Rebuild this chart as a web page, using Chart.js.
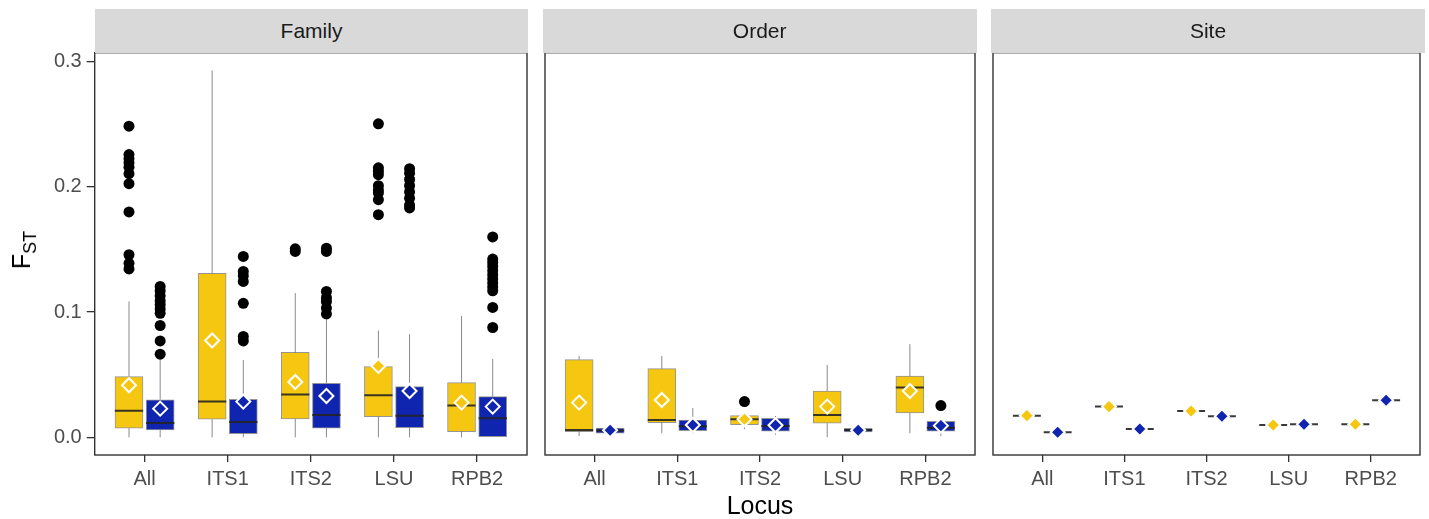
<!DOCTYPE html>
<html>
<head>
<meta charset="utf-8">
<script src="https://cdn.jsdelivr.net/npm/chart.js@4.4.0/dist/chart.umd.min.js"></script>
<style>
  body { margin: 0; background: #fff; }
  .fig { position: relative; width: 1429px; height: 519px; font-family: "Liberation Sans", Arial, sans-serif; }
  .fig canvas { position: absolute; top: 0; }
  .strip { position: absolute; top: 9.3px; height: 43.4px; line-height: 43.4px; background: #d9d9d9; color: #1a1a1a; font-size: 21px; text-align: center; }
  .ytitle { position: absolute; left: 24px; top: 250px; transform: translate(-50%, -50%) rotate(-90deg); font-size: 25px; color: #000; white-space: nowrap; }
  .ytitle sub { font-size: 18px; }
  .xtitle { position: absolute; left: 760px; top: 505px; transform: translate(-50%, -50%); font-size: 25px; color: #000; }
</style>
</head>
<body>
<div class="fig">
  <canvas id="family" width="536" height="519" style="left:0px"></canvas>
  <canvas id="order" width="448" height="519" style="left:536px"></canvas>
  <canvas id="site" width="445" height="519" style="left:984px"></canvas>
  <div class="strip" style="left:94.7px; width:433.6px">Family</div>
  <div class="strip" style="left:542.7px; width:434px">Order</div>
  <div class="strip" style="left:991px; width:434px">Site</div>
  <div class="ytitle">F<sub>ST</sub></div>
  <div class="xtitle">Locus</div>
</div>
<script>
  // categories + tick values
  const LOCI = ["All", "ITS1", "ITS2", "LSU", "RPB2"];
  const Y_TICKS = [0, 0.1, 0.2, 0.3];

  // boxes: [whisker low, q1, median, q3, whisker high] per locus
  const FAMILY_Y_BOX = [
    [0.0, 0.0072, 0.0213, 0.0485, 0.1085],
    [0.0, 0.0144, 0.0285, 0.131, 0.293],
    [0.0, 0.0146, 0.0341, 0.0678, 0.1152],
    [0.0, 0.0165, 0.0336, 0.0565, 0.0853],
    [0.0, 0.0045, 0.0253, 0.0437, 0.097],
  ];
  const FAMILY_Y_MEAN = [0.0416, 0.0773, 0.0442, 0.057, 0.0277];
  const FAMILY_Y_OUT = [
    [0.2485, 0.2258, 0.2224, 0.2192, 0.2157, 0.2106, 0.2026, 0.18, 0.1458, 0.139, 0.1345],
    [],
    [0.1505, 0.1485],
    [0.2504, 0.2152, 0.2125, 0.2098, 0.201, 0.1975, 0.1952, 0.1898, 0.1778],
    [],
  ];
  const FAMILY_B_BOX = [
    [0.0, 0.0058, 0.0114, 0.030, 0.062],
    [0.0, 0.0029, 0.0122, 0.0304, 0.0618],
    [0.0, 0.0072, 0.0178, 0.0432, 0.094],
    [0.0, 0.0077, 0.0173, 0.0405, 0.0824],
    [0.0, 0.0, 0.0152, 0.0325, 0.0626],
  ];
  const FAMILY_B_MEAN = [0.0229, 0.0285, 0.033, 0.037, 0.0245];
  const FAMILY_B_OUT = [
    [0.1205, 0.117, 0.113, 0.109, 0.106, 0.1025, 0.099, 0.0893, 0.077, 0.0664],
    [0.1445, 0.1325, 0.129, 0.1245, 0.107, 0.0805, 0.077],
    [0.151, 0.1485, 0.1165, 0.1115, 0.1085, 0.1032, 0.0985],
    [0.2145, 0.211, 0.206, 0.201, 0.196, 0.191, 0.1855, 0.1832],
    [0.16, 0.1424, 0.1395, 0.1365, 0.133, 0.1298, 0.1265, 0.1232, 0.12, 0.117, 0.1037, 0.0877],
  ];

  const ORDER_Y_BOX = [
    [0.001, 0.0045, 0.0058, 0.0621, 0.065],
    [0.0032, 0.0117, 0.0138, 0.0549, 0.065],
    [0.0066, 0.0101, 0.0144, 0.0173, 0.018],
    [0.0, 0.0112, 0.0178, 0.037, 0.0578],
    [0.0032, 0.0194, 0.0397, 0.0488, 0.0744],
  ];
  const ORDER_Y_MEAN = [0.0277, 0.0298, 0.0144, 0.0245, 0.037];
  const ORDER_Y_OUT = [[], [], [0.0285], [], []];
  const ORDER_B_BOX = [
    [0.003, 0.0032, 0.0055, 0.0074, 0.0076],
    [0.003, 0.0053, 0.0088, 0.0138, 0.0234],
    [0.002, 0.0048, 0.009, 0.0152, 0.017],
    [0.004, 0.0042, 0.0058, 0.0072, 0.0074],
    [0.001, 0.0048, 0.0077, 0.0128, 0.014],
  ];
  const ORDER_B_MEAN = [0.0056, 0.0098, 0.0096, 0.0056, 0.0093];
  const ORDER_B_OUT = [[], [], [], [], [0.0253]];

  const SITE_Y_BOX = [
    [0.0173, 0.0173, 0.0173, 0.0173, 0.0173],
    [0.0245, 0.0245, 0.0245, 0.0245, 0.0245],
    [0.021, 0.021, 0.021, 0.021, 0.021],
    [0.0098, 0.0098, 0.0098, 0.0098, 0.0098],
    [0.0104, 0.0104, 0.0104, 0.0104, 0.0104],
  ];
  const SITE_Y_MEAN = [0.0173, 0.0245, 0.021, 0.0098, 0.0104];
  const SITE_Y_OUT = [[], [], [], [], []];
  const SITE_B_BOX = [
    [0.004, 0.004, 0.004, 0.004, 0.004],
    [0.0066, 0.0066, 0.0066, 0.0066, 0.0066],
    [0.0168, 0.0168, 0.0168, 0.0168, 0.0168],
    [0.0104, 0.0104, 0.0104, 0.0104, 0.0104],
    [0.0296, 0.0296, 0.0296, 0.0296, 0.0296],
  ];
  const SITE_B_MEAN = [0.004, 0.0066, 0.0168, 0.0104, 0.0296];
  const SITE_B_OUT = [[], [], [], [], []];

  const YELLOW = "#f5c710";
  const BLUE = "#0f25b0";
  const DODGE = 0.1875;
  const HALF = 0.17;

  Chart.defaults.font.family = '"Liberation Sans", Arial, sans-serif';

  // dark frame around each panel
  const panelBorder = {
    id: "panelBorder",
    afterDatasetsDraw(chart) {
      const a = chart.chartArea;
      const ctx = chart.ctx;
      ctx.save();
      ctx.strokeStyle = "#333";
      ctx.lineWidth = 1.4;
      ctx.strokeRect(a.left, a.top, a.right - a.left, a.bottom - a.top);
      ctx.restore();
    },
  };

  function panelDatasets(groups) {
    const sets = [];
    groups.forEach((g) => {
      const bars = [], whisk = [], med = [], outs = [], means = [];
      g.box.forEach((b, i) => {
        const x = i + 1 + g.dx;
        bars.push({ x: x, y: [b[1], b[3]] });
        whisk.push({ x: x, y: b[0] }, { x: x, y: b[1] }, { x: x, y: null },
                   { x: x, y: b[3] }, { x: x, y: b[4] }, { x: x, y: null });
        med.push({ x: x - HALF, y: b[2] }, { x: x + HALF, y: b[2] }, { x: x, y: null });
        g.out[i].forEach((v) => outs.push({ x: x, y: v }));
        means.push({ x: x, y: g.mean[i] });
      });
      sets.push(
        { type: "bar", data: bars, backgroundColor: g.color, borderColor: "rgba(60,60,60,0.55)",
          borderWidth: 1, borderSkipped: false, barThickness: 28, grouped: false, order: 3 },
        { type: "line", data: whisk, borderColor: "#8a8a8a", borderWidth: 1, pointRadius: 0,
          spanGaps: false, fill: false, order: 4 },
        { type: "line", data: med, borderColor: "rgba(35,35,35,0.9)", borderWidth: 2, pointRadius: 0,
          spanGaps: false, fill: false, order: 2 },
        { type: "scatter", data: outs, pointRadius: 5.5, backgroundColor: "#000", borderWidth: 0, order: 1 },
        { type: "scatter", data: means, pointStyle: "rectRot", pointRadius: 7, backgroundColor: g.color,
          borderColor: "#fff", borderWidth: 2, order: 0 }
      );
    });
    return sets;
  }

  function makePanel(id, groups, showY, padding) {
    new Chart(document.getElementById(id), {
      type: "bar",
      data: { datasets: panelDatasets(groups) },
      options: {
        responsive: false,
        animation: false,
        events: [],
        layout: { padding: padding },
        plugins: { legend: { display: false }, tooltip: { enabled: false } },
        scales: {
          x: {
            type: "linear",
            min: 0.4,
            max: 5.6,
            offset: false,
            afterBuildTicks: (s) => { s.ticks = [1, 2, 3, 4, 5].map((v) => ({ value: v })); },
            afterFit: (s) => { s.height = 64; },
            ticks: { callback: (v) => LOCI[v - 1], color: "#4d4d4d", font: { size: 20 }, padding: 5,
                     maxRotation: 0, autoSkip: false },
            grid: { drawOnChartArea: false, offset: false, tickLength: 7, color: "#333", lineWidth: 1.3 },
            border: { display: false },
          },
          y: {
            display: showY,
            min: -0.01414,
            max: 0.30719,
            afterBuildTicks: (s) => { s.ticks = Y_TICKS.map((v) => ({ value: v })); },
            afterFit: (s) => { if (showY) s.width = 94.7; },
            ticks: { callback: (v) => v.toFixed(1), color: "#4d4d4d", font: { size: 20 }, padding: 5 },
            grid: { drawOnChartArea: false, tickLength: 8, color: "#333", lineWidth: 1.3 },
            border: { display: false },
          },
        },
      },
      plugins: [panelBorder],
    });
  }

  makePanel("family", [
    { box: FAMILY_Y_BOX, mean: FAMILY_Y_MEAN, out: FAMILY_Y_OUT, color: YELLOW, dx: -DODGE },
    { box: FAMILY_B_BOX, mean: FAMILY_B_MEAN, out: FAMILY_B_OUT, color: BLUE, dx: DODGE },
  ], true, { top: 52.7, right: 7.7, left: 0, bottom: 0 });

  makePanel("order", [
    { box: ORDER_Y_BOX, mean: ORDER_Y_MEAN, out: ORDER_Y_OUT, color: YELLOW, dx: -DODGE },
    { box: ORDER_B_BOX, mean: ORDER_B_MEAN, out: ORDER_B_OUT, color: BLUE, dx: DODGE },
  ], false, { top: 52.7, right: 7.3, left: 6.7, bottom: 0 });

  makePanel("site", [
    { box: SITE_Y_BOX, mean: SITE_Y_MEAN, out: SITE_Y_OUT, color: YELLOW, dx: -DODGE },
    { box: SITE_B_BOX, mean: SITE_B_MEAN, out: SITE_B_OUT, color: BLUE, dx: DODGE },
  ], false, { top: 52.7, right: 4, left: 7, bottom: 0 });
</script>
</body>
</html>
